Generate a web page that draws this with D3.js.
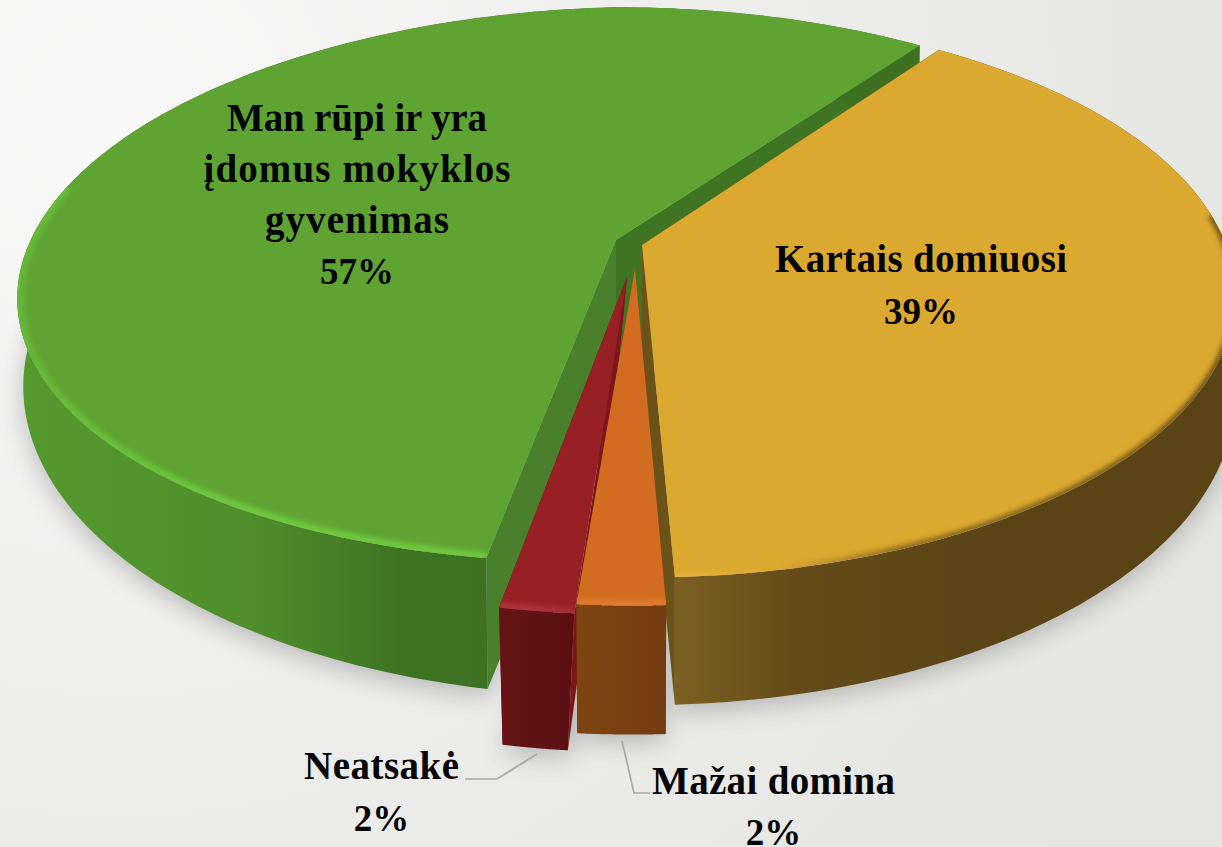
<!DOCTYPE html>
<html><head><meta charset="utf-8">
<script src="https://cdn.jsdelivr.net/npm/d3@7/dist/d3.min.js"></script>
<style>html,body{margin:0;padding:0;background:#eee;overflow:hidden}svg{display:block}
text{font-family:"Liberation Serif",serif;font-weight:700;fill:#050505}</style></head><body>
<script>
// ---- data ----
const categories = ["Kartais domiuosi", "Mažai domina", "Neatsakė", "Man rūpi ir yra įdomus mokyklos gyvenimas"];
const values = [39.4, 2, 1.7, 56.9];
const percentLabels = ["39%", "2%", "2%", "57%"];
const labelLines = [["Kartais domiuosi"],["Mažai domina"],["Neatsakė"],["Man rūpi ir yra","įdomus mokyklos","gyvenimas"]];
// ---- presentation ----
const W=1222,H=847;
const startDeg=35.5;
const perspS=[.176,.176,.176,.16], RxS=[584,590,590,591], RyS=[274,274,274,270], shear=[0,0,0,.024];
const depths=[96,134,142,97];
const botScaleX=[1,.985,.867,.99], botDx=[0,0,-14,0], botScaleY=[1.095,.985,.985,1.118];
const wallDepth=[130,134,142,139];
const topColors=["#dba830","#d26c20","#962024","#5fa333"];
const wallColors=["#6a5218","#6a3a10","#7e1518","#4a802b"];
const backWall="#3f7423";
const tips=[[642,245],[635,268],[627,277],[616,240]];
const centers=[[642,245],[633,273],[631,282],[616,240]];
const sideStops=[
 [[672,"#7d6022"],[800,"#634a18"],[1000,"#5a4416"],[1222,"#5a4416"]],
 [[578,"#7e4513"],[665,"#763c11"]],
 [[500,"#651415"],[575,"#5a0f11"]],
 [[20,"#559a2e"],[250,"#4f8e2b"],[400,"#3f7423"],[495,"#3e7021"]]
];
const rimStops=[
 [[672,"#e6b63e"],[780,"#dba830"],[900,"#8a6a1e"],[1222,"#6d5217"]],
 [[578,"#df7a2e"],[665,"#df7a2e"]],
 [[500,"#b03440"],[575,"#a82c36"]],
 [[18,"#66b838"],[250,"#70c83e"],[495,"#70c83e"]]
];
const labelX=[921,773.5,381.5,357], labelY=[272,794,779,131], labelDy=[51.5,51,52,51];
const labelWidths=[[292],[243],[155],[260,307,184]];
const percentSize=37;
const leaders=[null,[[650,793],[634,793],[622,741]],[[465,779],[497,779],[537,754]],null];

const svg=d3.select("body").append("svg").attr("width",W).attr("height",H);
const defs=svg.append("defs");
const bg=defs.append("radialGradient").attr("id","bg").attr("gradientUnits","userSpaceOnUse")
  .attr("cx",120).attr("cy",120).attr("r",1250);
[[0,"#f9f9f9"],[.45,"#eeeeed"],[1,"#e4e4e0"]].forEach(s=>bg.append("stop").attr("offset",s[0]).attr("stop-color",s[1]));
defs.append("filter").attr("id","sh").attr("x","-20%").attr("y","-20%").attr("width","140%").attr("height","140%")
  .append("feGaussianBlur").attr("stdDeviation",13);
defs.append("filter").attr("id","rim").attr("filterUnits","userSpaceOnUse").attr("x",0).attr("y",0).attr("width",W).attr("height",H)
  .append("feGaussianBlur").attr("stdDeviation",2.5);
svg.append("rect").attr("width",W).attr("height",H).attr("fill","url(#bg)");

const pie=d3.pie().sort(null).value(d=>d).startAngle(startDeg*Math.PI/180).endAngle((startDeg+360)*Math.PI/180);
const arcs=pie(values);
function proj(a,c,i,bottom){
  const u=Math.sin(a),v=Math.cos(a),w=1+perspS[i]*v;
  const X=RxS[i]*u/w,Y=RyS[i]*v/w;
  return bottom
    ? [c[0]+botDx[i]+X*botScaleX[i], c[1]-Y*botScaleY[i]+depths[i]]
    : [c[0]+X, c[1]-Y+shear[i]*Math.max(0,-X)];
}
function arcPts(a0,a1,c,i,b){return d3.range(0,161).map(k=>proj(a0+(a1-a0)*k/160,c,i,b));}
const line=d3.line();
function grad(id,stops){
  const x0=stops[0][0],x1=stops[stops.length-1][0];
  const lg=defs.append("linearGradient").attr("id",id).attr("gradientUnits","userSpaceOnUse")
     .attr("x1",x0).attr("x2",x1).attr("y1",0).attr("y2",0);
  stops.forEach(s=>lg.append("stop").attr("offset",(s[0]-x0)/(x1-x0)).attr("stop-color",s[1]));
}
const order=[3,0,2,1];
const shadow=svg.append("g").attr("filter","url(#sh)").attr("opacity",.36);
order.forEach(i=>{const d=arcs[i];
  const pts=arcPts(d.startAngle,d.endAngle,centers[i],i,true).map(p=>[p[0],p[1]+7]);
  shadow.append("path").attr("d",line(pts.concat([[tips[i][0],tips[i][1]+wallDepth[i]]]))+"Z").attr("fill","#555");
});
order.forEach(i=>{
  const d=arcs[i],c=centers[i],t=tips[i];
  const g=svg.append("g").attr("class","slice");
  grad("side"+i,sideStops[i]); grad("rimg"+i,rimStops[i]);
  const pS=proj(d.startAngle,c,i,false),pE=proj(d.endAngle,c,i,false);
  const pSb=proj(d.startAngle,c,i,true),pEb=proj(d.endAngle,c,i,true);
  const tb=[t[0]+botDx[i],t[1]+wallDepth[i]];
  const pEw=i===3?[pE[0],pE[1]+wallDepth[i]]:pEb;
  g.append("path").attr("d",line([t,pE,pEw,tb])+"Z").attr("fill",i===3?backWall:wallColors[i]);
  g.append("path").attr("d",line([t,pS,pSb,tb])+"Z").attr("fill",wallColors[i]);
  const topA=arcPts(d.startAngle,d.endAngle,c,i,false), botA=arcPts(d.startAngle,d.endAngle,c,i,true);
  g.append("path").attr("d",line(topA.concat(botA.slice().reverse()))+"Z").attr("fill","url(#side"+i+")");
  const face=line([t].concat(topA))+"Z";
  g.append("path").attr("d",face).attr("fill",topColors[i]);
  defs.append("clipPath").attr("id","clip"+i).append("path").attr("d",face);
  const span=d.endAngle-d.startAngle;
  const from=i===0?d.startAngle+span*0.34:d.startAngle;
  const to=i===3?d.startAngle+span*0.46:d.endAngle;
  g.append("g").attr("clip-path","url(#clip"+i+")").append("path").attr("d",line(arcPts(from,to,c,i,false)))
    .attr("fill","none").attr("stroke","url(#rimg"+i+")").attr("stroke-width",i===0?7:12).attr("filter","url(#rim)");
});
leaders.forEach(l=>{ if(l) svg.append("path").attr("d",line(l)).attr("fill","none").attr("stroke","#a9a9a9").attr("stroke-width",1.7); });
labelLines.forEach((ls,i)=>{
  ls.forEach((s,j)=>{
    svg.append("text").attr("x",labelX[i]).attr("y",labelY[i]+j*labelDy[i])
      .attr("text-anchor","middle").attr("font-size",39)
      .attr("textLength",labelWidths[i][j]).attr("lengthAdjust","spacing").text(s);
  });
  svg.append("text").attr("x",labelX[i]).attr("y",labelY[i]+ls.length*labelDy[i])
    .attr("text-anchor","middle").attr("font-size",percentSize).text(percentLabels[i]);
});
</script></body></html>
